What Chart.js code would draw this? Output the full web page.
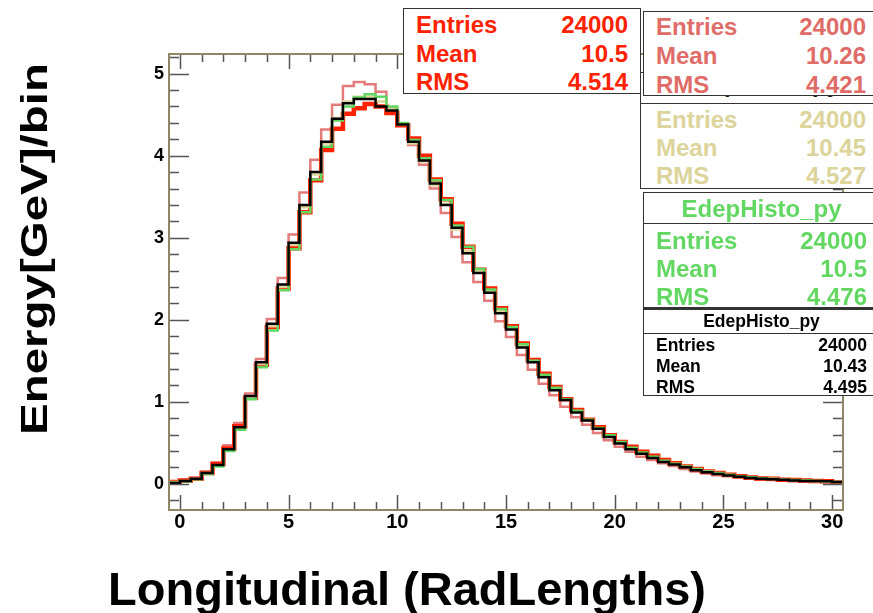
<!DOCTYPE html>
<html>
<head>
<meta charset="utf-8">
<script src="https://cdn.jsdelivr.net/npm/chart.js@4.4.0/dist/chart.umd.min.js"></script>
<style>
  html, body { margin: 0; padding: 0; background: #fff; }
  #wrap { position: relative; width: 873px; height: 613px; overflow: hidden; }
  #grafico { position: absolute; left: 0; top: 0; }
  .stats { position: absolute; background: #fff; border: 1px solid #333; box-sizing: border-box;
           font-family: 'Liberation Sans', Arial, sans-serif; font-weight: bold; overflow: hidden; }
  .stats .titulo { text-align: center; border-bottom: 1px solid #333; box-sizing: border-box; white-space: nowrap; overflow: hidden; }
  .stats .linha { display: flex; justify-content: space-between; white-space: nowrap; }
</style>
</head>
<body>
<div id="wrap">
  <canvas id="grafico" width="873" height="613"></canvas>
</div>
<script>
// Bordas esquerdas dos bins (largura 0.5), ultimo bin fecha em 30.5
const binsX = [-0.5, 0, 0.5, 1, 1.5, 2, 2.5, 3, 3.5, 4, 4.5, 5, 5.5, 6, 6.5, 7, 7.5, 8, 8.5, 9, 9.5,
  10, 10.5, 11, 11.5, 12, 12.5, 13, 13.5, 14, 14.5, 15, 15.5, 16, 16.5, 17, 17.5, 18, 18.5, 19, 19.5,
  20, 20.5, 21, 21.5, 22, 22.5, 23, 23.5, 24, 24.5, 25, 25.5, 26, 26.5, 27, 27.5, 28, 28.5, 29, 29.5, 30];
const xFim = 30.5;

const xTicks = [0, 5, 10, 15, 20, 25, 30];
const yTicks = [0, 1, 2, 3, 4, 5];

// Energia por bin de cada histograma
const energiaPreto = [0.01, 0.035, 0.06, 0.13, 0.23, 0.42, 0.69, 1.07, 1.48, 1.95, 2.43, 2.94, 3.40, 3.80, 4.17,
  4.45, 4.64, 4.69, 4.69, 4.60, 4.55, 4.38, 4.17, 3.94, 3.66, 3.40, 3.12, 2.81, 2.57, 2.33, 2.08, 1.88, 1.66,
  1.48, 1.30, 1.14, 1.02, 0.87, 0.77, 0.67, 0.57, 0.49, 0.42, 0.365, 0.315, 0.265, 0.235, 0.20, 0.165, 0.14,
  0.12, 0.10, 0.085, 0.07, 0.06, 0.055, 0.05, 0.04, 0.035, 0.035, 0.03, 0.02];
const energiaVermelho = [0.02, 0.04, 0.06, 0.13, 0.24, 0.43, 0.70, 1.05, 1.45, 1.91, 2.38, 2.87, 3.31, 3.70, 4.07,
  4.33, 4.51, 4.58, 4.63, 4.60, 4.52, 4.37, 4.21, 4.00, 3.71, 3.47, 3.17, 2.89, 2.61, 2.38, 2.14, 1.92, 1.71,
  1.51, 1.34, 1.18, 1.03, 0.90, 0.78, 0.69, 0.59, 0.51, 0.45, 0.39, 0.34, 0.29, 0.25, 0.21, 0.18, 0.15,
  0.13, 0.11, 0.09, 0.075, 0.065, 0.06, 0.05, 0.045, 0.04, 0.035, 0.03, 0.015];
const energiaRosa = [0.02, 0.04, 0.07, 0.15, 0.26, 0.47, 0.74, 1.10, 1.52, 2.01, 2.51, 3.04, 3.55, 3.95, 4.32,
  4.62, 4.85, 4.90, 4.87, 4.78, 4.58, 4.38, 4.13, 3.89, 3.60, 3.30, 3.01, 2.70, 2.46, 2.23, 1.98, 1.79, 1.57,
  1.39, 1.22, 1.08, 0.94, 0.81, 0.72, 0.62, 0.53, 0.45, 0.39, 0.33, 0.29, 0.25, 0.215, 0.18, 0.15, 0.125,
  0.105, 0.09, 0.075, 0.06, 0.05, 0.045, 0.04, 0.035, 0.03, 0.025, 0.02, 0.01];
const energiaVerde = [0.015, 0.03, 0.055, 0.12, 0.21, 0.40, 0.66, 1.03, 1.42, 1.87, 2.36, 2.86, 3.31, 3.71, 4.11,
  4.43, 4.60, 4.71, 4.75, 4.72, 4.60, 4.40, 4.19, 3.97, 3.70, 3.46, 3.15, 2.89, 2.62, 2.37, 2.13, 1.91, 1.70,
  1.50, 1.33, 1.17, 1.03, 0.89, 0.78, 0.68, 0.59, 0.51, 0.44, 0.38, 0.33, 0.28, 0.245, 0.21, 0.18, 0.15,
  0.13, 0.11, 0.09, 0.08, 0.065, 0.06, 0.05, 0.045, 0.04, 0.035, 0.03, 0.02];
const energiaCaqui = [0.02, 0.035, 0.06, 0.13, 0.22, 0.41, 0.68, 1.06, 1.46, 1.92, 2.40, 2.91, 3.37, 3.77, 4.15,
  4.46, 4.66, 4.72, 4.72, 4.66, 4.57, 4.38, 4.15, 3.93, 3.64, 3.41, 3.10, 2.84, 2.59, 2.35, 2.10, 1.89, 1.68,
  1.49, 1.31, 1.15, 1.02, 0.88, 0.77, 0.67, 0.58, 0.50, 0.43, 0.37, 0.32, 0.27, 0.24, 0.205, 0.17, 0.145,
  0.125, 0.105, 0.09, 0.075, 0.063, 0.057, 0.05, 0.042, 0.037, 0.033, 0.028, 0.02];

// Caixas de estatistica
const nomeHisto = 'EdepHisto_py';
const rotulosStats = ['Entries', 'Mean', 'RMS'];
const statsVermelho = ['24000', '10.5', '4.514'];
const statsRosa = ['24000', '10.26', '4.421'];
const statsCaqui = ['24000', '10.45', '4.527'];
const statsVerde = ['24000', '10.5', '4.476'];
const statsPreto = ['24000', '10.43', '4.495'];

const tituloX = 'Longitudinal (RadLengths)';
const tituloY = 'Energy[GeV]/bin';

const corVermelho = '#ff2200';
const corRosa = '#e06c68';
const corCaqui = '#dcd49a';
const corVerde = '#62d862';
const corPreto = '#000000';
const fonte = "'Liberation Sans', Arial, sans-serif";

function pontosHisto(valores) {
  const pts = binsX.map((x, i) => ({ x: x, y: valores[i] }));
  pts.push({ x: xFim, y: valores[valores.length - 1] });
  return pts;
}

// Moldura e marcas internas estilo ROOT
const molduraPlugin = {
  id: 'moldura',
  afterDatasetsDraw(chart) {
    const { ctx, chartArea: a, scales: { x, y } } = chart;
    ctx.save();
    ctx.strokeStyle = '#555';
    ctx.lineWidth = 1.5;
    ctx.beginPath();
    for (let v = 0; v <= 30; v++) {
      const px = Math.round(x.getPixelForValue(v)) + 0.5;
      const len = v % 5 === 0 ? 15 : 8;
      ctx.moveTo(px, a.bottom); ctx.lineTo(px, a.bottom - len);
      ctx.moveTo(px, a.top); ctx.lineTo(px, a.top + len);
    }
    for (let i = -1; i <= 26; i++) {
      const py = Math.round(y.getPixelForValue(i * 0.2)) + 0.5;
      const len = i % 5 === 0 ? 20 : 10;
      ctx.moveTo(a.left, py); ctx.lineTo(a.left + len, py);
      ctx.moveTo(a.right, py); ctx.lineTo(a.right - len, py);
    }
    ctx.stroke();
    ctx.strokeStyle = '#8f8766';
    ctx.lineWidth = 2;
    ctx.strokeRect(a.left, a.top, a.right - a.left, a.bottom - a.top);
    ctx.restore();
  },
  afterDraw(chart) {
    const ctx = chart.ctx;
    ctx.save();
    ctx.fillStyle = '#000';
    ctx.font = 'bold 47px ' + fonte;
    ctx.textAlign = 'center';
    ctx.textBaseline = 'alphabetic';
    ctx.fillText(tituloX, 407, 605);

    ctx.font = 'bold 36px ' + fonte;
    const largura = ctx.measureText(tituloY).width;
    ctx.translate(47, 249);
    ctx.rotate(-Math.PI / 2);
    ctx.scale(372 / largura, 1);
    ctx.fillText(tituloY, 0, 0);
    ctx.restore();
  }
};

const ctx = document.getElementById('grafico').getContext('2d');
new Chart(ctx, {
  type: 'line',
  data: {
    datasets: [
      { label: 'preto', data: pontosHisto(energiaPreto), borderColor: corPreto, borderWidth: 2.5 },
      { label: 'verde', data: pontosHisto(energiaVerde), borderColor: corVerde, borderWidth: 2.5 },
      { label: 'caqui', data: pontosHisto(energiaCaqui), borderColor: corCaqui, borderWidth: 2.5 },
      { label: 'vermelho', data: pontosHisto(energiaVermelho), borderColor: corVermelho, borderWidth: 4.5 },
      { label: 'rosa', data: pontosHisto(energiaRosa), borderColor: 'rgba(222,100,100,0.85)', borderWidth: 2.5 }
    ].map(ds => Object.assign(ds, { stepped: true, pointRadius: 0, fill: false, tension: 0, borderJoinStyle: 'miter' }))
  },
  options: {
    responsive: false,
    animation: false,
    layout: { padding: { top: 54, right: 30, left: 0, bottom: 0 } },
    plugins: { legend: { display: false }, tooltip: { enabled: false } },
    scales: {
      x: {
        type: 'linear',
        min: -0.5,
        max: xFim,
        afterBuildTicks: s => { s.ticks = xTicks.map(v => ({ value: v })); },
        afterFit: s => { s.height = 103; },
        grid: { display: false, drawTicks: false },
        border: { display: false },
        ticks: { color: '#000', padding: 0, maxRotation: 0, autoSkip: false,
                 font: { family: fonte, size: 20, weight: 'bold' } }
      },
      y: {
        type: 'linear',
        min: -0.32,
        max: 5.24,
        afterBuildTicks: s => { s.ticks = yTicks.map(v => ({ value: v })); },
        afterFit: s => { s.width = 169; },
        grid: { display: false, drawTicks: false },
        border: { display: false },
        ticks: { color: '#000', padding: 5, font: { family: fonte, size: 18, weight: 'bold' } }
      }
    }
  },
  plugins: [molduraPlugin]
});

// Caixas de estatisticas (ordem de desenho: a ultima fica por cima)
const caixas = [
  { valores: statsCaqui, cor: corCaqui, corTitulo: '#111', left: 640, top: 72, width: 240, height: 117.3,
    tituloH: 31.3, tituloLH: 22, linhaH: 28.4, padTop: 1.4, tam: 24, padL: 15, padR: 13 },
  { valores: statsRosa, cor: corRosa, left: 643, top: 10.7, width: 237, height: 85.3,
    tituloH: 0, linhaH: 28.7, padTop: 1.5, tam: 24, padL: 12, padR: 13 },
  { valores: statsVermelho, cor: corVermelho, left: 403, top: 8, width: 238, height: 86,
    tituloH: 0, linhaH: 28.7, padTop: 2, tam: 24, padL: 12, padR: 12 },
  { valores: statsVerde, cor: corVerde, corTitulo: corVerde, left: 643, top: 191.5, width: 237, height: 116.8,
    tituloH: 31.8, linhaH: 28.3, padTop: 2.5, tam: 24, padL: 12, padR: 12 },
  { valores: statsPreto, cor: corPreto, corTitulo: corPreto, left: 643, top: 308, width: 237, height: 88,
    tituloH: 23.7, linhaH: 21, padTop: 1.8, tam: 17.5, padL: 12, padR: 12, bordaTopo: 2 }
];

const wrap = document.getElementById('wrap');
caixas.forEach(c => {
  const box = document.createElement('div');
  box.className = 'stats';
  Object.assign(box.style, {
    left: c.left + 'px', top: c.top + 'px', width: c.width + 'px', height: c.height + 'px',
    fontSize: c.tam + 'px', color: c.cor
  });
  if (c.bordaTopo) box.style.borderTopWidth = c.bordaTopo + 'px';
  if (c.tituloH) {
    const t = document.createElement('div');
    t.className = 'titulo';
    t.textContent = nomeHisto;
    Object.assign(t.style, { height: c.tituloH + 'px', lineHeight: (c.tituloLH || c.tituloH) + 'px', color: c.corTitulo });
    box.appendChild(t);
  }
  const corpo = document.createElement('div');
  corpo.style.paddingTop = c.padTop + 'px';
  rotulosStats.forEach((r, i) => {
    const linha = document.createElement('div');
    linha.className = 'linha';
    Object.assign(linha.style, { height: c.linhaH + 'px', lineHeight: c.linhaH + 'px',
      paddingLeft: c.padL + 'px', paddingRight: c.padR + 'px' });
    const a = document.createElement('span'); a.textContent = r;
    const b = document.createElement('span'); b.textContent = c.valores[i];
    linha.appendChild(a); linha.appendChild(b);
    corpo.appendChild(linha);
  });
  box.appendChild(corpo);
  wrap.appendChild(box);
});
</script>
</body>
</html>
